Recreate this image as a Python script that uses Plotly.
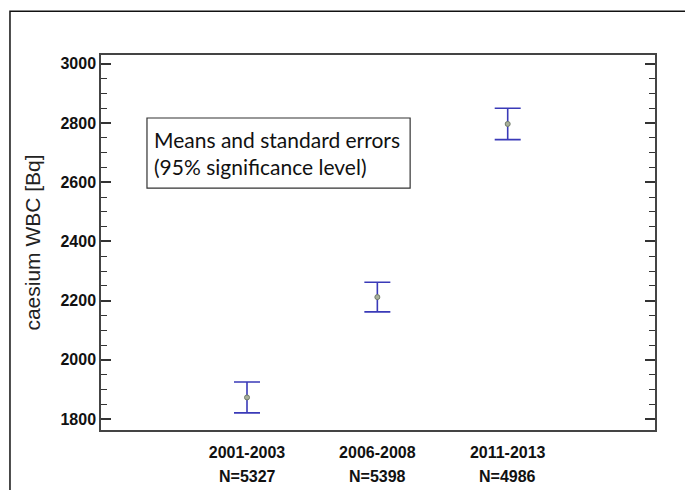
import plotly.graph_objects as go

categories = ["2001-2003", "2006-2008", "2011-2013"]
n_labels = ["N=5327", "N=5398", "N=4986"]
x_pos = [1, 2, 3]
means = [1873, 2212, 2797]
errors = [52, 50, 53]
y_ticks = [1800, 2000, 2200, 2400, 2600, 2800, 3000]

fig = go.Figure()
fig.add_trace(go.Scatter(
    x=x_pos, y=means, mode="markers",
    marker=dict(size=5, color="#a8b09a", line=dict(color="#707a6a", width=1)),
    error_y=dict(type="data", array=errors, visible=True, color="#3a3ab8",
                 thickness=1.6, width=13),
    showlegend=False,
))

tick_font = dict(family="Liberation Sans, Arial, sans-serif",
                 size=16, color="#111111", weight="bold")

annotations = [
    dict(xref="paper", yref="paper", x=0.092, y=0.7385, xanchor="left", yanchor="middle",
         align="left", showarrow=False,
         text="Means and standard errors<br>(95% significance level)",
         font=dict(family="Lato, Open Sans, sans-serif", size=21, color="#111111")),
]
for xp, nl in zip(x_pos, n_labels):
    annotations.append(dict(xref="x", yref="paper", x=xp, y=-0.1253, xanchor="center",
                            yanchor="middle", showarrow=False, text=nl, font=tick_font))

fig.update_layout(
    width=685, height=490,
    margin=dict(l=101, r=30, t=55, b=60, autoexpand=False),
    paper_bgcolor="white", plot_bgcolor="white",
    xaxis=dict(range=[-0.12, 4.13], tickvals=x_pos, ticktext=categories,
               showline=True, linecolor="#444444", linewidth=1.5, mirror=True,
               showgrid=False, zeroline=False, ticks="", tickfont=tick_font,
               ticklabelstandoff=7),
    yaxis=dict(range=[1763, 3030], tickvals=y_ticks,
               showline=True, linecolor="#444444", linewidth=1.5, mirror="ticks",
               showgrid=False, zeroline=False,
               ticks="inside", ticklen=10, tickwidth=1.5, tickcolor="#333333",
               minor=dict(dtick=50, ticks="inside", ticklen=6, tickwidth=1.2, tickcolor="#333333"),
               tickfont=tick_font,
               title=dict(text="caesium WBC [Bq]", standoff=14,
                          font=dict(family="Liberation Sans, Arial, sans-serif", size=21, color="#222222"))),
    shapes=[
        dict(type="rect", xref="paper", yref="paper", x0=-0.1643, x1=1.2, y0=-0.3, y1=1.117,
             line=dict(color="#111111", width=1.5), fillcolor="rgba(0,0,0,0)", layer="below"),
        dict(type="rect", xref="paper", yref="paper", x0=0.083, x1=0.558, y0=0.645, y1=0.832,
             line=dict(color="#333333", width=1.2), fillcolor="white"),
    ],
    annotations=annotations,
)

fig.write_html("out.html", config={"displayModeBar": False},
               post_script="document.body.style.margin='0';")
